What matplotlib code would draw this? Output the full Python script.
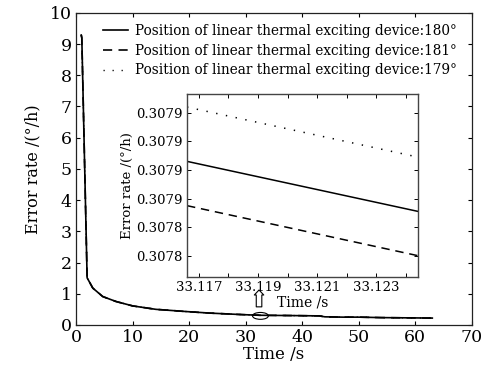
import matplotlib
matplotlib.use("Agg")
import matplotlib.pyplot as plt
from matplotlib.patches import Ellipse
from matplotlib.ticker import MultipleLocator, FixedLocator

plt.rcParams['font.family'] = ['DejaVu Serif']
plt.rcParams['mathtext.fontset'] = 'dejavuserif'

# Error rate over the whole run (the three device positions coincide at this scale)
time_s = [0.9, 1.0, 1.94, 2.95, 4.7, 7.07, 10.0, 14.1, 19.4, 23.6, 29.5, 32.5,
          38.4, 43.0, 44.0, 47.2, 50.0, 54.0, 60.0, 63.0]
error_rate = [9.29, 9.2, 1.51, 1.18, 0.91, 0.75, 0.61, 0.50, 0.43, 0.38, 0.33,
              0.31, 0.30, 0.29, 0.26, 0.25, 0.25, 0.235, 0.225, 0.22]

labels = ['Position of linear thermal exciting device:180°',
          'Position of linear thermal exciting device:181°',
          'Position of linear thermal exciting device:179°']

# Detail window around t = 33.12 s
zoom_time = [33.1166, 33.1244]
zoom_180 = [0.307886, 0.307851]
zoom_181 = [0.307855, 0.307820]
zoom_179 = [0.307924, 0.307889]

inset_xticks = [33.117, 33.119, 33.121, 33.123]
inset_yticks = [0.30782, 0.30784, 0.30786, 0.30788, 0.30790, 0.30792]
inset_yticklabels = ['0.3078', '0.3078', '0.3079', '0.3079', '0.3079', '0.3079']

solid = '-'
dashed = (0, (5.5, 3.8))
dotted = (0, (0.9, 5.6))

fig = plt.figure(figsize=(4.82, 3.68), dpi=100)
ax = fig.add_axes([0.158, 0.117, 0.821, 0.848])

ax.plot(time_s, error_rate, color='black', lw=1.2, ls=solid, label=labels[0])
ax.plot(time_s, error_rate, color='black', lw=1.2, ls=dashed, label=labels[1])
ax.plot(time_s, error_rate, color='black', lw=1.0, ls=dotted, label=labels[2])

ax.set_xlim(0, 70)
ax.set_ylim(0, 10)
ax.xaxis.set_major_locator(MultipleLocator(10))
ax.yaxis.set_major_locator(MultipleLocator(1))
ax.tick_params(direction='in', top=True, right=True, length=3, width=0.8,
               labelsize=12.5, pad=3)
ax.set_xlabel('Time /s', fontsize=12, labelpad=0)
ax.set_ylabel('Error rate /(°/h)', fontsize=11.5, labelpad=6)
for s in ax.spines.values():
    s.set_linewidth(0.9)
    s.set_color('#222222')

leg = ax.legend(loc='upper left', frameon=False, fontsize=9.8, handlelength=1.85,
                handletextpad=0.5, labelspacing=0.42, borderaxespad=0.0,
                bbox_to_anchor=(0.054, 0.982))

# Marker around the magnified region and arrow pointing to the detail view
ax.add_patch(Ellipse((32.6, 0.29), 2.8, 0.22, fill=False, ec='black', lw=0.8))
ax.annotate('', xy=(32.35, 1.12), xytext=(32.35, 0.58),
            arrowprops=dict(arrowstyle='simple,head_length=0.45,head_width=0.85,tail_width=0.5',
                            fc='white', ec='black', lw=0.8, mutation_scale=8,
                            shrinkA=0, shrinkB=0))

ins = fig.add_axes([0.388, 0.247, 0.479, 0.497])
ins.plot(zoom_time, zoom_180, color='black', lw=1.1, ls=solid)
ins.plot(zoom_time, zoom_181, color='black', lw=1.1, ls=dashed)
ins.plot(zoom_time, zoom_179, color='black', lw=1.1, ls=dotted)
ins.set_xlim(zoom_time[0], zoom_time[1])
ins.set_ylim(0.307805, 0.307933)
ins.xaxis.set_major_locator(FixedLocator(inset_xticks))
ins.set_xticklabels(['33.117', '33.119', '33.121', '33.123'])
ins.xaxis.set_minor_locator(MultipleLocator(0.001))
ins.yaxis.set_major_locator(FixedLocator(inset_yticks))
ins.set_yticklabels(inset_yticklabels)
ins.tick_params(which='both', direction='in', top=True, right=True, length=3,
                width=0.7, labelsize=9.5, pad=3)
ins.tick_params(which='minor', length=3)
ins.set_xlabel('Time /s', fontsize=10, labelpad=1)
ins.set_ylabel('Error rate /(°/h)', fontsize=9.5, labelpad=2)
for s in ins.spines.values():
    s.set_linewidth(1.0)
    s.set_color('#444444')

fig.savefig('out.png', dpi=100)
